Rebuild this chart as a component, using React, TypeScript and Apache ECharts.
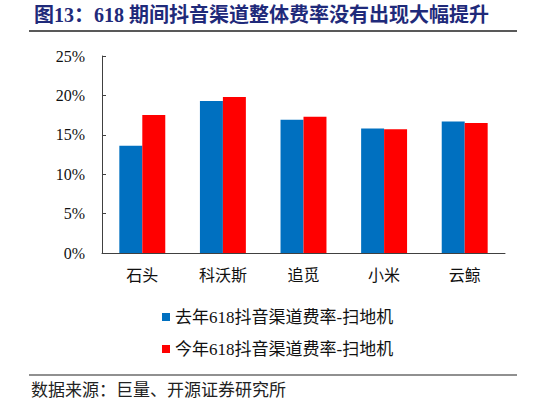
import React, { useEffect, useRef } from "react";
import * as echarts from "echarts";

const categories = ["石头", "科沃斯", "追觅", "小米", "云鲸"];
const lastYear = [13.6, 19.3, 16.9, 15.8, 16.7];
const thisYear = [17.5, 19.8, 17.3, 15.7, 16.5];
const seriesNames = ["去年618抖音渠道费率-扫地机", "今年618抖音渠道费率-扫地机"];
const titleText = "图13：618 期间抖音渠道整体费率没有出现大幅提升";
const sourceText = "数据来源：巨量、开源证券研究所";

const FONT = "'Liberation Serif', 'Noto Sans CJK SC', serif";

export default function App() {
  const ref = useRef<HTMLDivElement>(null);
  useEffect(() => {
    if (!ref.current) return;
    const chart = echarts.init(ref.current, undefined, { renderer: "svg" });
    chart.setOption({
      animation: false,
      backgroundColor: "#ffffff",
      textStyle: { fontFamily: FONT },
      grid: { left: 102, right: 41, top: 56, bottom: 152, containLabel: false },
      xAxis: {
        type: "category",
        data: categories,
        axisLine: { lineStyle: { color: "#404040", width: 1 } },
        axisTick: { inside: true, length: 5, lineStyle: { color: "#404040" } },
        axisLabel: { color: "#111", fontSize: 16, margin: 14, fontFamily: FONT },
      },
      yAxis: {
        type: "value",
        min: 0,
        max: 25,
        interval: 5,
        axisLine: { show: true, lineStyle: { color: "#404040", width: 1 } },
        axisTick: { show: true, inside: true, length: 4, lineStyle: { color: "#404040" } },
        splitLine: { show: false },
        axisLabel: { color: "#111", fontSize: 16, margin: 17, formatter: "{value}%", fontFamily: FONT },
      },
      legend: {
        orient: "vertical",
        left: 157,
        top: 302,
        itemWidth: 8,
        itemHeight: 8,
        itemGap: 12,
        icon: "rect",
        textStyle: { fontSize: 17, color: "#111", lineHeight: 20, fontFamily: FONT, padding: [0, 0, 0, 0] },
        data: seriesNames,
      },
      series: [
        {
          name: seriesNames[0],
          type: "bar",
          data: lastYear,
          barGap: "0%",
          barCategoryGap: "43%",
          itemStyle: { color: "#0070C0" },
        },
        {
          name: seriesNames[1],
          type: "bar",
          data: thisYear,
          itemStyle: { color: "#FF0000" },
        },
      ],
      graphic: [
        {
          type: "text",
          left: 34,
          top: 5,
          style: {
            text: titleText,
            fontSize: 20,
            fontWeight: "bold",
            fill: "#1F2A7A",
            fontFamily: FONT,
          },
        },
        {
          type: "line",
          shape: { x1: 29, y1: 31, x2: 517, y2: 31 },
          style: { stroke: "#222", lineWidth: 1.5 },
        },
        {
          type: "line",
          shape: { x1: 29, y1: 375, x2: 517, y2: 375 },
          style: { stroke: "#222", lineWidth: 1.2 },
        },
        {
          type: "text",
          left: 31,
          top: 382,
          style: {
            text: sourceText,
            fontSize: 17,
            fill: "#222",
            fontFamily: FONT,
          },
        },
      ],
    });
    return () => chart.dispose();
  }, []);
  return (
    <div
      ref={ref}
      style={{ position: "fixed", left: 0, top: 0, width: 546, height: 405 }}
    />
  );
}
